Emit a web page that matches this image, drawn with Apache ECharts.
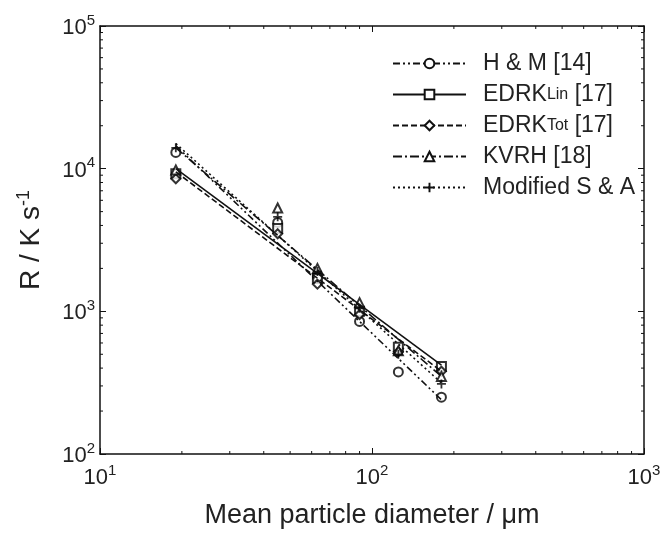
<!DOCTYPE html>
<html>
<head>
<meta charset="utf-8">
<script src="https://cdn.jsdelivr.net/npm/echarts@6/dist/echarts.min.js"></script>
<style>
html, body { margin: 0; padding: 0; background: #fff; }
#chart { width: 666px; height: 537px; }
</style>
</head>
<body>
<div id="chart"></div>
<script>
// particle diameters (um)
const diameters = [19, 45, 63, 90, 125, 180]
// measured / model cooling rates (K/s)
const hmPoints = [13000, 4200, 1750, 850, 376, 250]
const linPoints = [9200, 3800, 1700, 1000, 560, 410]
const totPoints = [8500, 3500, 1550, 950, 520, 380]
const kvrhPoints = [9800, 5300, 2000, 1150, 530, 350]
const saPoints = [14000, 4600, 1900, 1050, 500, 310]
// fitted lines, start and end values
const fitEnds = [19, 180]
const hmFit = [14500, 240]
const linFit = [10000, 420]
const totFit = [9500, 380]
const kvrhFit = [14000, 350]
const saFit = [15000, 315]
// minor ticks
const xMinor = [20, 30, 40, 50, 60, 70, 80, 90, 200, 300, 400, 500, 600, 700, 800, 900]
const yMinor = [200, 300, 400, 500, 600, 700, 800, 900, 2000, 3000, 4000, 5000, 6000, 7000, 8000, 9000,
  20000, 30000, 40000, 50000, 60000, 70000, 80000, 90000]

const ink = '#111'
const font = 'Liberation Sans, Arial, sans-serif'

const models = [
  { name: 'H & M [14]', points: hmPoints, fit: hmFit, symbol: 'emptyCircle', dash: [7, 3, 2, 3, 2, 3] },
  { name: 'EDRKLin [17]', points: linPoints, fit: linFit, symbol: 'emptyRect', dash: 'solid' },
  { name: 'EDRKTot [17]', points: totPoints, fit: totFit, symbol: 'emptyDiamond', dash: [6, 3] },
  { name: 'KVRH [18]', points: kvrhPoints, fit: kvrhFit, symbol: 'emptyTriangle', dash: [9, 3, 2, 3] },
  { name: 'Modified S & A', points: saPoints, fit: saFit, symbol: 'path://M4,0H6V4H10V6H6V10H4V6H0V4H4Z', dash: [2, 3] }
]

function powLabel(v) {
  return '{b|10}{s|' + Math.round(Math.log10(v)) + '}'
}
const labelRich = {
  b: { fontSize: 22, fontFamily: font, color: '#222', verticalAlign: 'bottom', lineHeight: 26 },
  s: { fontSize: 15, fontFamily: font, color: '#222', verticalAlign: 'top', lineHeight: 26, padding: [0, 0, 12, 0] }
}

function makeX(pos, labels) {
  return {
    type: 'log', logBase: 10, min: 10, max: 1000, position: pos,
    axisLine: { show: true, onZero: false, lineStyle: { color: ink, width: 1.5 } },
    axisTick: { show: true, inside: true, length: 6, lineStyle: { color: ink } },
    axisLabel: { show: labels, formatter: powLabel, rich: labelRich, margin: 9 },
    splitLine: { show: false },
    name: labels ? 'Mean particle diameter / \u03bcm' : '',
    nameLocation: 'middle', nameGap: 48,
    nameTextStyle: { fontSize: 27, fontFamily: font, color: '#222' }
  }
}
function makeY(pos, labels) {
  return {
    type: 'log', logBase: 10, min: 100, max: 100000, position: pos,
    axisLine: { show: true, onZero: false, lineStyle: { color: ink, width: 1.5 } },
    axisTick: { show: true, inside: true, length: 6, lineStyle: { color: ink } },
    axisLabel: { show: labels, formatter: powLabel, rich: labelRich, margin: 5 },
    splitLine: { show: false },
    name: labels ? 'R / K s{s|-1}' : '',
    nameLocation: 'middle', nameGap: 52,
    nameTextStyle: {
      fontSize: 28, fontFamily: font, color: '#222',
      rich: { s: { fontSize: 18, fontFamily: font, color: '#222', verticalAlign: 'top', padding: [0, 0, 15, 0] } }
    }
  }
}

const series = []
models.forEach(m => {
  series.push({
    name: m.name, type: 'line', xAxisIndex: 0, yAxisIndex: 0,
    data: fitEnds.map((d, i) => [d, m.fit[i]]),
    symbol: m.symbol, symbolSize: 9, showSymbol: false,
    lineStyle: { color: ink, width: 1.6, type: m.dash },
    itemStyle: { color: ink },
    silent: true
  })
  series.push({
    name: m.name, type: 'scatter', xAxisIndex: 0, yAxisIndex: 0,
    data: diameters.map((d, i) => [d, m.points[i]]),
    symbol: m.symbol, symbolSize: 9,
    itemStyle: { color: '#000', borderWidth: 1.6 }
  })
})

series.push({
  type: 'custom', xAxisIndex: 0, yAxisIndex: 0, clip: false, silent: true,
  data: xMinor.map(v => [v, 1000]),
  renderItem: function(params, api) {
    const p = api.coord([api.value(0), api.value(1)])
    const cs = params.coordSys
    const st = { stroke: ink, lineWidth: 1 }
    return {
      type: 'group', children: [
        { type: 'line', shape: { x1: p[0], y1: cs.y + cs.height, x2: p[0], y2: cs.y + cs.height - 3 }, style: st },
        { type: 'line', shape: { x1: p[0], y1: cs.y, x2: p[0], y2: cs.y + 3 }, style: st }
      ]
    }
  }
})
series.push({
  type: 'custom', xAxisIndex: 0, yAxisIndex: 0, clip: false, silent: true,
  data: yMinor.map(v => [100, v]),
  renderItem: function(params, api) {
    const p = api.coord([api.value(0), api.value(1)])
    const cs = params.coordSys
    const st = { stroke: ink, lineWidth: 1 }
    return {
      type: 'group', children: [
        { type: 'line', shape: { x1: cs.x, y1: p[1], x2: cs.x + 3, y2: p[1] }, style: st },
        { type: 'line', shape: { x1: cs.x + cs.width, y1: p[1], x2: cs.x + cs.width - 3, y2: p[1] }, style: st }
      ]
    }
  }
})

const chart = echarts.init(document.getElementById('chart'))
chart.setOption({
  animation: false,
  backgroundColor: '#fff',
  grid: { left: 100, right: 22, top: 26, bottom: 83 },
  xAxis: [makeX('bottom', true), makeX('top', false)],
  yAxis: [makeY('left', true), makeY('right', false)],
  legend: {
    orient: 'vertical', left: 387, top: 47,
    itemWidth: 73, itemHeight: 12, itemGap: 8,
    data: models.map(m => m.name),
    formatter: function(name) {
      return name.replace('Lin', '{s|Lin}').replace('Tot', '{s|Tot}')
    },
    textStyle: {
      fontSize: 23, fontFamily: font, color: '#222', padding: [0, 0, 0, 12],
      rich: { s: { fontSize: 16, fontFamily: font, color: '#222' } }
    }
  },
  series: series
})
</script>
</body>
</html>
